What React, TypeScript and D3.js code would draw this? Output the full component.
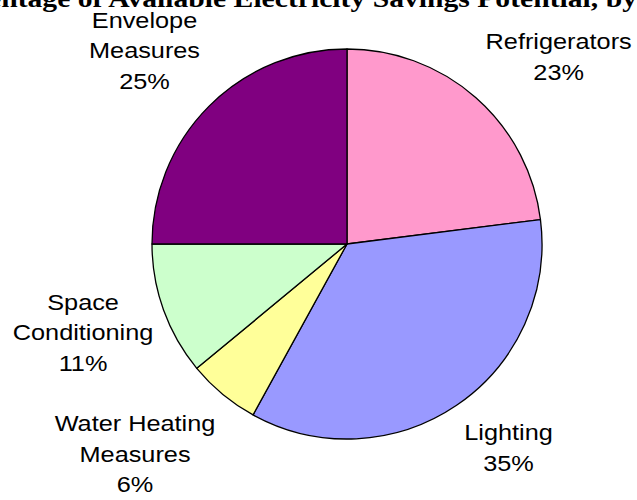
import React from "react";
import * as d3 from "d3";

const categories = ["Refrigerators", "Lighting", "Water Heating Measures", "Space Conditioning", "Envelope Measures"];
const values = [23, 35, 6, 11, 25];
const colors = ["#FF99CC", "#9999FF", "#FFFF99", "#CCFFCC", "#800080"];
const labelLines = [["Refrigerators"], ["Lighting"], ["Water Heating", "Measures"], ["Space", "Conditioning"], ["Envelope", "Measures"]];
const titleText = "Percentage of Available Electricity Savings Potential, by End Use";

const W = 637;
const H = 500;
const cx = 347;
const cy = 244;
const r = 195;
const labelR = 280;
const labelNudge = [
  [26.5, 22.75],
  [4.1, -28.1],
  [-33.5, -6],
  [-0.5, -6.8],
  [-4.5, 4.3],
];
const stretch = 1.15;
const fontSize = 22;
const lineH = 30.5;

export default function App() {
  const data = categories.map((c, i) => ({ c, v: values[i], i }));
  const pie = d3.pie<any>().value((d) => d.v).sort(null).startAngle(0).endAngle(2 * Math.PI);
  const arcs = pie(data);
  const arc = d3.arc<any>().innerRadius(0).outerRadius(r);
  const labelArc = d3.arc<any>().innerRadius(labelR).outerRadius(labelR);

  return (
    <svg width={W} height={H} style={{ position: "absolute", left: 0, top: 0, background: "#fff" }}>
      <text
        transform={`translate(-69,6.5) scale(1.21,1)`}
        fontFamily="'Liberation Serif', 'Times New Roman', serif"
        fontWeight="bold"
        fontSize={24.5}
        fill="#000"
      >
        {titleText}
      </text>
      <g transform={`translate(${cx},${cy})`}>
        {arcs.map((a, i) => (
          <path key={i} d={arc(a) as string} fill={colors[i]} stroke="#000" strokeWidth={1.3} strokeLinejoin="round" />
        ))}
      </g>
      {arcs.map((a, i) => {
        const [lx, ly] = labelArc.centroid(a);
        const x = cx + lx + labelNudge[i][0];
        const y = cy + ly + labelNudge[i][1];
        const lines = [...labelLines[i], `${values[i]}%`];
        const n = lines.length;
        return (
          <g key={i}>
            {lines.map((t, k) => (
              <text
                key={k}
                transform={`translate(${x},${y + (k - (n - 1) / 2) * lineH + 8}) scale(${stretch},1)`}
                textAnchor="middle"
                fontFamily="'Liberation Sans', Arial, Helvetica, sans-serif"
                fontSize={fontSize}
                fill="#000"
              >
                {t}
              </text>
            ))}
          </g>
        );
      })}
    </svg>
  );
}
